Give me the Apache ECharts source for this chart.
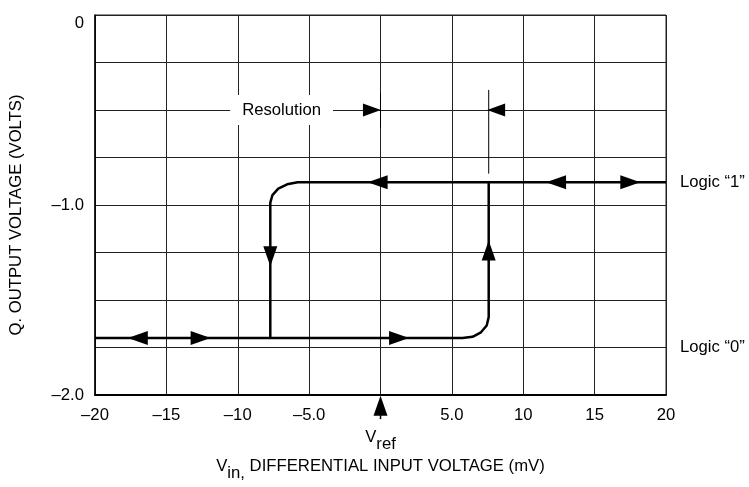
<!DOCTYPE html>
<html>
<head>
<meta charset="utf-8">
<script src="https://cdn.jsdelivr.net/npm/echarts@6/dist/echarts.min.js"></script>
<style>html,body{margin:0;padding:0;background:#fff}#c{width:749px;height:487px}</style>
</head>
<body>
<div id="c"></div>
<script>
// ---- data ----
const xTicks = [-20, -15, -10, -5, 0, 5, 10, 15, 20];
const xTickLabels = ['–20', '–15', '–10', '–5.0', '', '5.0', '10', '15', '20'];
const yTickValues = [0, -1, -2];
const yTickLabels = ['0', '–1.0', '–2.0'];

// Rising branch: Logic "0" level, then switching up at ~ +7.6 mV
const risingX = [-20, 5.74, 6.45, 7.04, 7.44, 7.58, 7.58];
const risingY = [-1.70, -1.70, -1.694, -1.670, -1.634, -1.59, -0.88];
// Falling branch: Logic "1" level, then switching down at ~ -7.7 mV
const fallingX = [20, -5.8, -6.54, -7.16, -7.57, -7.72, -7.72];
const fallingY = [-0.88, -0.88, -0.891, -0.914, -0.948, -0.987, -1.70];

// direction arrows on the loop
const arrowX = [-0.2, 12.3, 17.5, -7.72, -17.0, -12.6, 1.3, 7.58];
const arrowY = [-0.88, -0.88, -0.88, -1.27, -1.70, -1.70, -1.70, -1.24];
const arrowDir = ['left', 'left', 'right', 'down', 'left', 'right', 'right', 'up'];

// resolution dimension
const resArrowX = [-0.6, 8.1];
const resArrowY = [-0.5, -0.5];
const resArrowDir = ['right', 'left'];
const resTickA = [[0, -0.41], [0, -0.593]];
const resTickB = [[7.58, -0.394], [7.58, -0.835]];
const resLabel = { x: -6.93, y: -0.5, text: 'Resolution' };

// Vref marker
const vrefArrow = [[0, -2.056]];
const vrefStem = [[0, -2.088], [0, -2.127]];
const vrefLabel = [[0, -2.225]];

const levelLabels = [
  { x: 20, y: -0.88, text: 'Logic “1”' },
  { x: 20, y: -1.75, text: 'Logic “0”' }
];

// ---- chart ----
const rot = { up: 0, left: 90, down: 180, right: -90 };
const FONT = 'Liberation Sans, Arial, sans-serif';
const FS = 16.7;
const chart = echarts.init(document.getElementById('c'), null, { renderer: 'canvas' });

function arrows(xs, ys, dirs) {
  return xs.map((x, i) => ({ value: [x, ys[i]], symbolRotate: rot[dirs[i]] }));
}

const lineBase = { type: 'line', showSymbol: false, symbol: 'none', silent: true, animation: false, clip: false };
const hidden = { color: 'transparent', opacity: 1 };
const subStyle = { fontSize: FS, fontFamily: FONT, color: '#000', padding: [14, 0, 0, 0], verticalAlign: 'bottom' };

chart.setOption({
  animation: false,
  textStyle: { fontFamily: FONT, color: '#000' },
  grid: { left: 93, right: 83, top: 15, bottom: 91, show: true, borderColor: '#222', borderWidth: 1 },
  xAxis: {
    type: 'value', min: -20, max: 20, interval: 5,
    axisLine: { show: true, onZero: false, lineStyle: { color: '#000', width: 2 } },
    axisTick: { show: false },
    splitLine: { show: true, lineStyle: { color: '#222', width: 1 } },
    axisLabel: {
      margin: 12, fontSize: FS, color: '#000', fontFamily: FONT,
      formatter: v => { const i = xTicks.indexOf(v); return i >= 0 ? xTickLabels[i] : ''; }
    },
    name: 'V{sub|in,} DIFFERENTIAL INPUT VOLTAGE (mV)',
    nameLocation: 'middle', nameGap: 56,
    nameTextStyle: { fontSize: FS, color: '#000', fontFamily: FONT, rich: { sub: subStyle } }
  },
  yAxis: {
    type: 'value', min: -2, max: 0, interval: 0.25,
    axisLine: { show: true, onZero: false, lineStyle: { color: '#000', width: 1.5 } },
    axisTick: { show: false },
    splitLine: { show: true, lineStyle: { color: '#222', width: 1 } },
    axisLabel: {
      margin: 11, fontSize: FS, color: '#000', fontFamily: FONT,
      verticalAlignMaxLabel: 'top',
      formatter: v => { const i = yTickValues.indexOf(v); return i >= 0 ? yTickLabels[i] : ''; }
    },
    name: 'Q. OUTPUT VOLTAGE (VOLTS)',
    nameLocation: 'middle', nameGap: 70,
    nameTextStyle: { fontSize: FS, color: '#000', fontFamily: FONT, padding: [0, 20, 0, 0] }
  },
  series: [
    Object.assign({}, lineBase, { data: risingX.map((x, i) => [x, risingY[i]]), lineStyle: { color: '#000', width: 2.5 }, z: 5 }),
    Object.assign({}, lineBase, { data: fallingX.map((x, i) => [x, fallingY[i]]), lineStyle: { color: '#000', width: 2.5 }, z: 5 }),
    Object.assign({}, lineBase, { data: resTickA, lineStyle: { color: '#000', width: 1 }, z: 5 }),
    Object.assign({}, lineBase, { data: resTickB, lineStyle: { color: '#000', width: 1 }, z: 5 }),
    Object.assign({}, lineBase, { data: vrefStem, lineStyle: { color: '#000', width: 1.5 }, z: 5 }),
    {
      type: 'scatter', symbol: 'circle', symbolSize: 2, clip: false, silent: true, z: 6,
      itemStyle: hidden,
      data: [[resLabel.x, resLabel.y]],
      label: {
        show: true, position: 'inside', formatter: resLabel.text,
        fontSize: FS, color: '#000', fontFamily: FONT,
        backgroundColor: '#fff', padding: [7, 12, 6, 12]
      }
    },
    {
      type: 'scatter', symbol: 'triangle', symbolSize: [14, 20], clip: false, silent: true, z: 7,
      itemStyle: { color: '#000', opacity: 1 },
      data: arrows(arrowX, arrowY, arrowDir)
    },
    {
      type: 'scatter', symbol: 'triangle', symbolSize: [13, 18], clip: false, silent: true, z: 7,
      itemStyle: { color: '#000', opacity: 1 },
      data: arrows(resArrowX, resArrowY, resArrowDir)
    },
    {
      type: 'scatter', symbol: 'triangle', symbolSize: [14, 20], clip: false, silent: true, z: 7,
      itemStyle: { color: '#000', opacity: 1 },
      data: vrefArrow
    },
    {
      type: 'scatter', symbol: 'circle', symbolSize: 2, clip: false, silent: true, z: 7,
      itemStyle: hidden,
      data: vrefLabel,
      label: {
        show: true, position: 'inside', formatter: 'V{sub|ref}',
        fontSize: FS, color: '#000', fontFamily: FONT, rich: { sub: subStyle }
      }
    },
    {
      type: 'scatter', symbol: 'circle', symbolSize: 2, clip: false, silent: true, z: 7,
      itemStyle: hidden,
      data: levelLabels.map(d => ({ value: [d.x, d.y], label: { formatter: d.text } })),
      label: { show: true, position: 'right', distance: 13, fontSize: FS, color: '#000', fontFamily: FONT }
    }
  ]
});
</script>
</body>
</html>
